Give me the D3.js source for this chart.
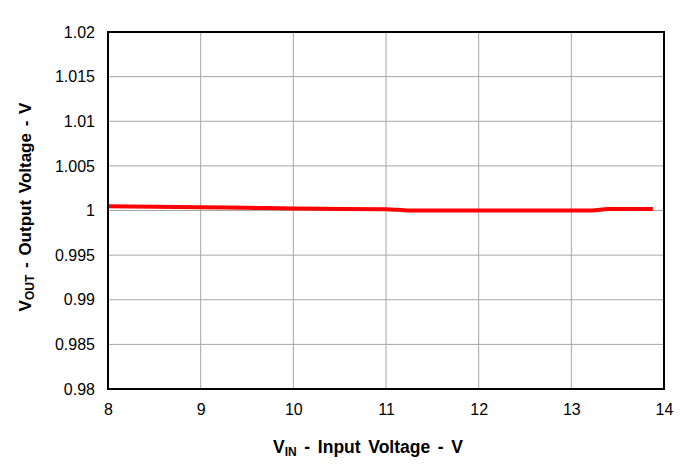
<!DOCTYPE html>
<html><head><meta charset="utf-8">
<script src="https://cdn.jsdelivr.net/npm/d3@7"></script>
<style>body{margin:0;background:#fff}svg{display:block}text{font-family:Arial,"Liberation Sans",sans-serif}</style>
</head><body>
<svg id="c" width="688" height="475"></svg>
<script>
const vin  = [8, 8.5, 9, 9.5, 10, 10.5, 11, 11.25, 11.5, 12, 12.5, 13, 13.22, 13.4, 13.88];
const vout = [1.00048, 1.00042, 1.00037, 1.0003, 1.00023, 1.00018, 1.00015, 1.0, 1.0, 1.0, 1.0, 1.0, 1.0, 1.00017, 1.00017];
const xTicks = [8, 9, 10, 11, 12, 13, 14];
const yTicks = [0.98, 0.985, 0.99, 0.995, 1, 1.005, 1.01, 1.015, 1.02];

const svg = d3.select("#c");
const L = 108, R = 664, T = 32, B = 389;
const x = d3.scaleLinear().domain([8, 14]).range([L, R]);
const y = d3.scaleLinear().domain([0.98, 1.02]).range([B, T]);

// grid
svg.append("g").selectAll("line").data(xTicks.slice(1, -1)).join("line")
  .attr("x1", d => x(d)).attr("x2", d => x(d)).attr("y1", T).attr("y2", B)
  .attr("stroke", "#a6a6a6").attr("stroke-width", 1);
svg.append("g").selectAll("line").data(yTicks.slice(1, -1)).join("line")
  .attr("x1", L).attr("x2", R).attr("y1", d => y(d)).attr("y2", d => y(d))
  .attr("stroke", "#a6a6a6").attr("stroke-width", 1);

// axes (labels only)
const xa = svg.append("g").attr("transform", `translate(0,${B})`)
  .call(d3.axisBottom(x).tickValues(xTicks).tickFormat(d3.format("d")).tickSize(0).tickPadding(15));
const ya = svg.append("g").attr("transform", `translate(${L},0)`)
  .call(d3.axisLeft(y).tickValues(yTicks).tickFormat(d => String(+d.toFixed(3))).tickSize(0).tickPadding(13));
[xa, ya].forEach(a => { a.select(".domain").remove(); a.selectAll("text").attr("font-size", 16).attr("fill", "#000").style("font-family", "Arial, 'Liberation Sans', sans-serif"); });
xa.selectAll("text").attr("dy", "0.71em");

// line
svg.append("path").datum(vin.map((v, i) => [v, vout[i]]))
  .attr("fill", "none").attr("stroke", "#ff0000").attr("stroke-width", 4)
  .attr("d", d3.line().x(d => x(d[0])).y(d => y(d[1])).curve(d3.curveMonotoneX));

// frame
svg.append("rect").attr("x", L).attr("y", T).attr("width", R - L).attr("height", B - T)
  .attr("fill", "none").attr("stroke", "#000").attr("stroke-width", 2);

// x label
const xl = svg.append("text").attr("x", 368).attr("y", 453).attr("text-anchor", "middle")
  .attr("font-size", 17.5).attr("font-weight", "bold").attr("word-spacing", 2.8);
xl.append("tspan").text("V");
xl.append("tspan").attr("font-size", 12).attr("dy", 3).text("IN");
xl.append("tspan").attr("dy", -3).text(" - Input Voltage - V");

// y label
const yl = svg.append("text").attr("transform", `translate(31,207) rotate(-90)`).attr("text-anchor", "middle")
  .attr("font-size", 17).attr("font-weight", "bold").attr("word-spacing", 2);
yl.append("tspan").text("V");
yl.append("tspan").attr("font-size", 12).attr("dy", 3).text("OUT");
yl.append("tspan").attr("dy", -3).text(" - Output Voltage - V");
</script>
</body></html>
